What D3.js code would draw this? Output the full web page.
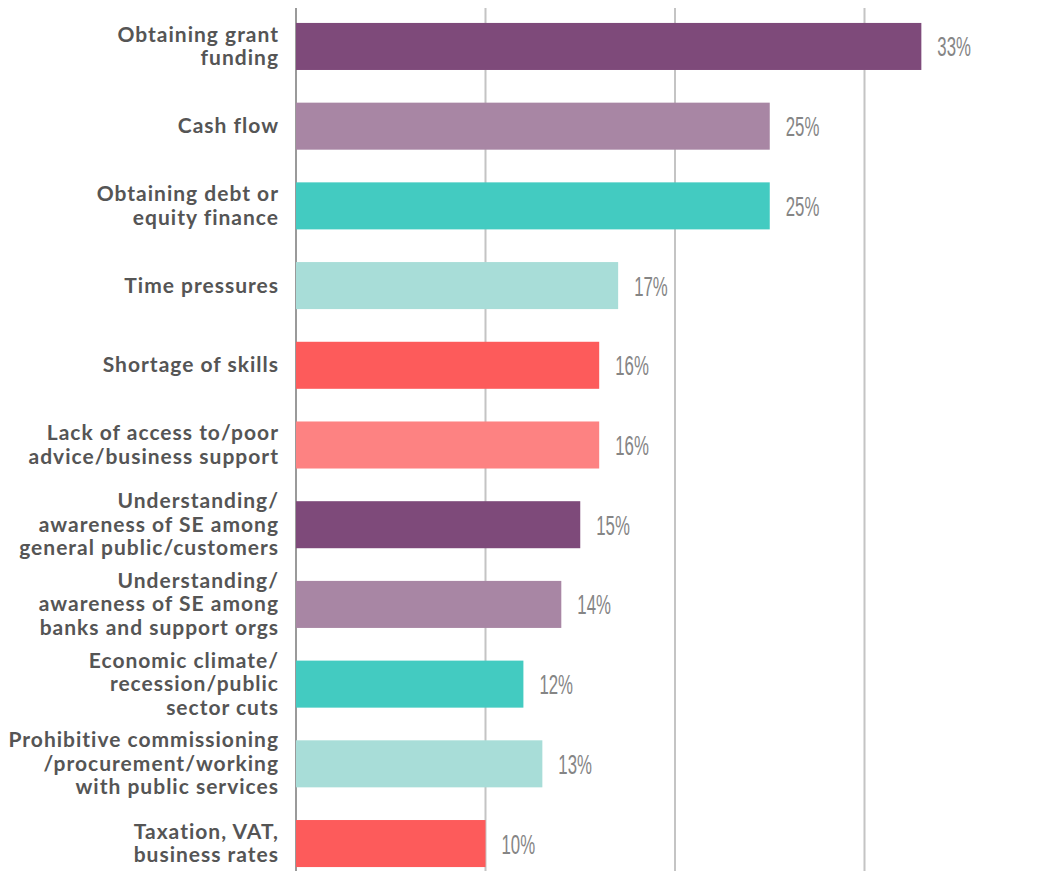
<!DOCTYPE html>
<html>
<head>
<meta charset="utf-8">
<script src="https://cdn.jsdelivr.net/npm/d3@7/dist/d3.min.js"></script>
<style>
  html, body { margin: 0; padding: 0; background: #fff; }
  svg { display: block; }
</style>
</head>
<body>
<svg id="chart" width="1040" height="871"></svg>
<script>
// Barriers reported, share of respondents (%)
const categories = [
  "Obtaining grant\nfunding",
  "Cash flow",
  "Obtaining debt or\nequity finance",
  "Time pressures",
  "Shortage of skills",
  "Lack of access to/poor\nadvice/business support",
  "Understanding/\nawareness of SE among\ngeneral public/customers",
  "Understanding/\nawareness of SE among\nbanks and support orgs",
  "Economic climate/\nrecession/public\nsector cuts",
  "Prohibitive commissioning\n/procurement/working\nwith public services",
  "Taxation, VAT,\nbusiness rates"
];
const values = [33, 25, 25, 17, 16, 16, 15, 14, 12, 13, 10];
const gridTicks = [0, 10, 20, 30];
const palette = ["#7e4a7a", "#a886a4", "#43cbc1", "#a8ddd8", "#fd5b5b", "#fd8282"];

const svg = d3.select("#chart");
const left = 296;

const x = d3.scaleLinear().domain([0, 10]).range([left, left + 189.5]);
const y = d3.scaleBand()
  .domain(categories)
  .range([7, 883])
  .paddingInner(0.41)
  .paddingOuter(0.2);

// vertical gridlines
svg.append("g")
  .selectAll("line")
  .data(gridTicks)
  .join("line")
  .attr("x1", d => x(d)).attr("x2", d => x(d))
  .attr("y1", 8).attr("y2", 871)
  .attr("stroke", d => d === 0 ? "#9a9a9a" : "#c4c4c4")
  .attr("stroke-width", 2);

// bars
svg.append("g")
  .selectAll("rect")
  .data(values)
  .join("rect")
  .attr("x", x(0))
  .attr("y", (d, i) => y(categories[i]))
  .attr("width", d => x(d) - x(0))
  .attr("height", y.bandwidth())
  .attr("fill", (d, i) => palette[i % palette.length]);

// value labels, condensed
svg.append("g")
  .selectAll("text")
  .data(values)
  .join("text")
  .attr("transform", (d, i) =>
    `translate(${x(d) + 16},${y(categories[i]) + y.bandwidth() / 2 + 10}) scale(0.6,1)`)
  .attr("font-family", "'Liberation Sans', Arial, sans-serif")
  .attr("font-size", 28)
  .attr("fill", "#858585")
  .text(d => d + "%");

// category labels, right-aligned to the axis
const lineH = 23.5;
const lab = svg.append("g")
  .selectAll("text")
  .data(categories)
  .join("text")
  .attr("text-anchor", "end")
  .attr("font-family", "Lato, 'Open Sans', sans-serif")
  .attr("font-weight", "bold")
  .attr("font-size", 21)
  .attr("letter-spacing", 1)
  .attr("fill", "#555555");

lab.each(function (d) {
  const lines = d.split("\n");
  const cy = y(d) + y.bandwidth() / 2;
  const top = cy - (lines.length - 1) * lineH / 2 + 7;
  d3.select(this).selectAll("tspan")
    .data(lines)
    .join("tspan")
    .attr("x", 279)
    .attr("y", (l, j) => top + j * lineH)
    .text(l => l);
});
</script>
</body>
</html>
